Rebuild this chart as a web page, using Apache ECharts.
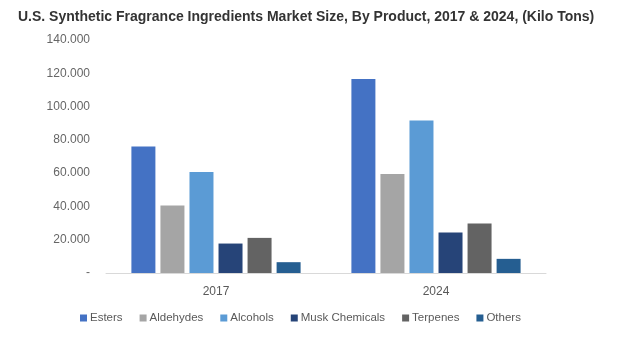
<!DOCTYPE html>
<html><head><meta charset="utf-8">
<script src="https://cdn.jsdelivr.net/npm/echarts@6/dist/echarts.min.js"></script>
<style>html,body{margin:0;padding:0;background:#fff}#c{width:618px;height:341px}</style>
</head><body><div id="c"></div>
<script>
const categories = ['2017', '2024'];
const seriesNames = ['Esters', 'Aldehydes', 'Alcohols', 'Musk Chemicals', 'Terpenes', 'Others'];
const esters = [76000, 116600];
const aldehydes = [40600, 59500];
const alcohols = [60700, 91600];
const musk = [17700, 24300];
const terpenes = [21100, 29700];
const others = [6500, 8500];
const colors = ['#4472C4', '#A5A5A5', '#5B9BD5', '#264478', '#636363', '#255E91'];
const values = [esters, aldehydes, alcohols, musk, terpenes, others];

const chart = echarts.init(document.getElementById('c'));
chart.setOption({
  animation: false,
  title: {
    text: 'U.S. Synthetic Fragrance Ingredients Market Size, By Product, 2017 & 2024, (Kilo Tons)',
    left: 13, top: 5,
    textStyle: {fontFamily: 'Liberation Sans', fontSize: 14, fontWeight: 'bold', color: '#333'}
  },
  legend: {
    bottom: 12, left: 75, itemWidth: 7, itemHeight: 7, itemGap: 17,
    icon: 'rect',
    textStyle: {fontFamily: 'Liberation Sans', fontSize: 11.5, color: '#595959', padding: [0,0,0,-2]},
    data: seriesNames
  },
  grid: {left: 106, right: 72, top: 40, bottom: 68},
  xAxis: {
    type: 'category', data: categories,
    axisLine: {lineStyle: {color: '#d9d9d9'}},
    axisTick: {show: false},
    axisLabel: {fontFamily: 'Liberation Sans', fontSize: 12, color: '#595959', margin: 13}
  },
  yAxis: {
    type: 'value', min: 0, max: 140000, interval: 20000,
    splitLine: {show: false},
    axisLine: {show: false}, axisTick: {show: false},
    axisLabel: {
      fontFamily: 'Liberation Sans', fontSize: 12, color: '#666', margin: 16,
      formatter: v => v === 0 ? '-' : (v / 1000).toFixed(0) + '.000'
    }
  },
  series: seriesNames.map((n, i) => ({
    name: n, type: 'bar', data: values[i], barWidth: 24, barGap: '21%',
    itemStyle: {color: colors[i]}
  }))
});
</script></body></html>
